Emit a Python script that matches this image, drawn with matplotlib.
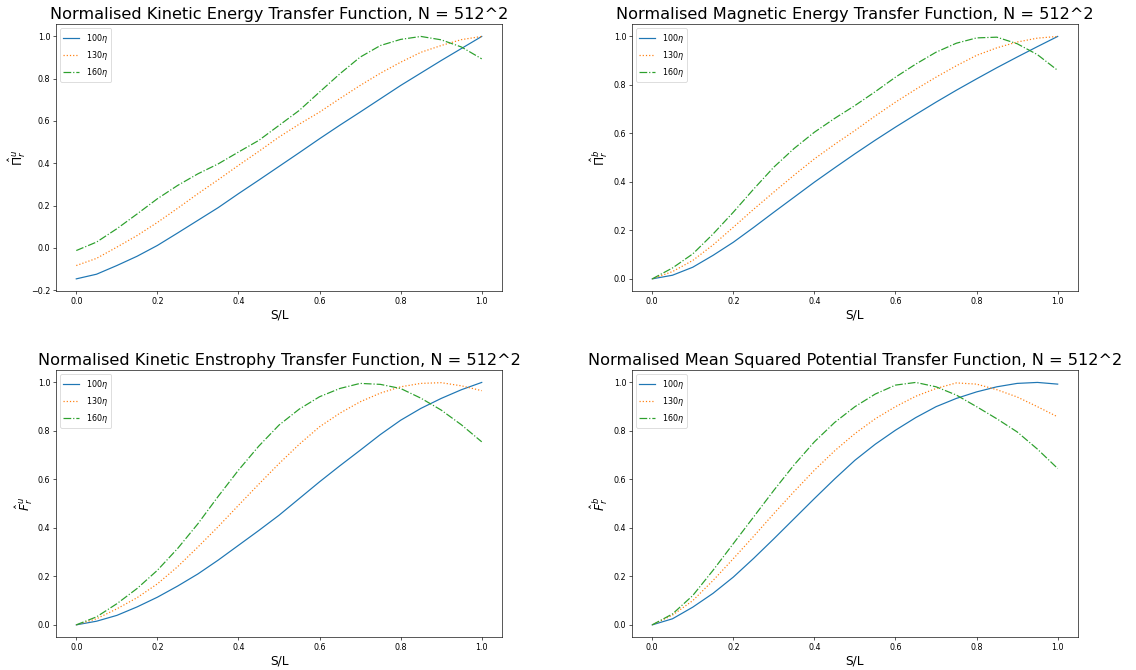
import numpy as np
import matplotlib
matplotlib.use("Agg")
import matplotlib.pyplot as plt

# S/L positions
s_over_l = [0.0, 0.05, 0.1, 0.15, 0.2, 0.25, 0.3, 0.35, 0.4, 0.45, 0.5,
            0.55, 0.6, 0.65, 0.7, 0.75, 0.8, 0.85, 0.9, 0.95, 1.0]

labels = [r'$100\eta$', r'$130\eta$', r'$160\eta$']

# kinetic energy transfer
ke_100 = [-0.147, -0.125, -0.084, -0.04, 0.011, 0.07, 0.13, 0.19, 0.256, 0.32, 0.385,
          0.45, 0.516, 0.58, 0.642, 0.705, 0.768, 0.827, 0.886, 0.943, 1.0]
ke_130 = [-0.084, -0.05, 0.003, 0.058, 0.12, 0.187, 0.256, 0.322, 0.39, 0.456, 0.524,
          0.585, 0.642, 0.706, 0.768, 0.826, 0.878, 0.925, 0.957, 0.985, 1.0]
ke_160 = [-0.013, 0.027, 0.09, 0.16, 0.232, 0.295, 0.35, 0.397, 0.453, 0.508, 0.579,
          0.65, 0.737, 0.823, 0.902, 0.957, 0.986, 1.0, 0.984, 0.95, 0.894]

# magnetic energy transfer
me_100 = [0.0, 0.015, 0.048, 0.097, 0.151, 0.212, 0.275, 0.337, 0.399, 0.458, 0.516,
          0.572, 0.626, 0.678, 0.729, 0.778, 0.825, 0.871, 0.915, 0.958, 1.0]
me_130 = [0.0, 0.03, 0.076, 0.14, 0.213, 0.287, 0.358, 0.428, 0.495, 0.555, 0.612,
          0.672, 0.729, 0.782, 0.832, 0.879, 0.922, 0.953, 0.977, 0.993, 1.0]
me_160 = [0.0, 0.045, 0.103, 0.185, 0.275, 0.37, 0.461, 0.538, 0.605, 0.662, 0.715,
          0.772, 0.832, 0.886, 0.935, 0.972, 0.994, 0.997, 0.97, 0.925, 0.86]

# kinetic enstrophy transfer
ens_100 = [0.0, 0.015, 0.039, 0.074, 0.114, 0.16, 0.21, 0.267, 0.328, 0.389, 0.452,
           0.521, 0.59, 0.656, 0.72, 0.785, 0.844, 0.893, 0.934, 0.97, 1.0]
ens_130 = [0.0, 0.025, 0.066, 0.112, 0.169, 0.24, 0.321, 0.405, 0.493, 0.58, 0.665,
           0.745, 0.817, 0.873, 0.92, 0.956, 0.982, 0.996, 0.999, 0.986, 0.966]
ens_160 = [0.0, 0.033, 0.087, 0.15, 0.225, 0.315, 0.417, 0.53, 0.638, 0.737, 0.824,
           0.89, 0.941, 0.975, 0.996, 0.992, 0.975, 0.935, 0.886, 0.825, 0.755]

# mean squared potential transfer
msp_100 = [0.0, 0.025, 0.073, 0.13, 0.197, 0.274, 0.355, 0.438, 0.521, 0.602, 0.679,
           0.745, 0.803, 0.855, 0.9, 0.934, 0.961, 0.982, 0.996, 1.0, 0.993]
msp_130 = [0.0, 0.04, 0.1, 0.183, 0.273, 0.365, 0.459, 0.55, 0.638, 0.718, 0.789,
           0.85, 0.9, 0.943, 0.975, 0.998, 0.993, 0.97, 0.94, 0.9, 0.858]
msp_160 = [0.0, 0.045, 0.121, 0.225, 0.335, 0.445, 0.555, 0.66, 0.755, 0.835, 0.9,
           0.952, 0.989, 1.0, 0.982, 0.948, 0.9, 0.85, 0.796, 0.725, 0.645]

panels = [
    ("Normalised Kinetic Energy Transfer Function, N = 512^2", r'$\hat{\Pi}^u_r$',
     [ke_100, ke_130, ke_160]),
    ("Normalised Magnetic Energy Transfer Function, N = 512^2", r'$\hat{\Pi}^b_r$',
     [me_100, me_130, me_160]),
    ("Normalised Kinetic Enstrophy Transfer Function, N = 512^2", r'$\hat{F}^u_r$',
     [ens_100, ens_130, ens_160]),
    ("Normalised Mean Squared Potential Transfer Function, N = 512^2", r'$\hat{F}^b_r$',
     [msp_100, msp_130, msp_160]),
]

dpi = 58
fig = plt.figure(figsize=(1136 / dpi, 670 / dpi), dpi=dpi)

# axes boxes in figure fractions
w, h = 0.3926, 0.3980
boxes = [(0.0493, 0.5657), (0.5563, 0.5657), (0.0493, 0.0493), (0.5563, 0.0493)]
styles = ['-', ':', '-.']

for (title, ylab, series), (x0, y0) in zip(panels, boxes):
    ax = fig.add_axes([x0, y0, w, h])
    for ys, ls, lab in zip(series, styles, labels):
        ax.plot(s_over_l, ys, linestyle=ls, label=lab)
    ax.set_title(title, fontsize=20)
    ax.set_xlabel('S/L', fontsize=15)
    ax.set_ylabel(ylab, fontsize=15)
    ax.legend(loc='upper left')

fig.savefig('out.png', dpi=dpi)
